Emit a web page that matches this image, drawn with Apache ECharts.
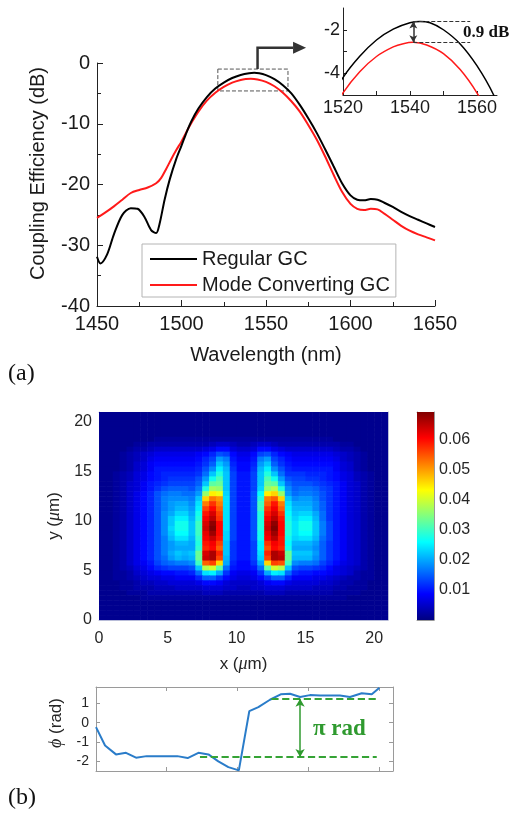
<!DOCTYPE html>
<html><head><meta charset="utf-8">
<script src="https://cdn.jsdelivr.net/npm/echarts/dist/echarts.min.js"></script>
<style>html,body{margin:0;padding:0;background:#fff;}#c{width:513px;height:819px;}</style>
</head><body><div id="c"></div>
<script>
// ---------- (a) coupling efficiency spectra ----------
const regX = [1450,1452,1456,1460,1465,1470,1474,1478,1482,1485,1487,1490,1493,1497,1500,1503,1506,1510,1515,1520,1525,1530,1535,1540,1543,1546,1550,1555,1560,1565,1570,1575,1580,1585,1590,1595,1600,1604,1608,1612,1616,1620,1625,1630,1635,1640,1645,1650];
const regY = [-31.9,-33.0,-31.5,-28.2,-25.0,-23.9,-24.0,-25.3,-27.5,-28.0,-26.5,-22.5,-19.2,-15.7,-13.6,-11.4,-9.5,-7.5,-5.6,-4.2,-3.22,-2.47,-1.97,-1.68,-1.62,-1.68,-2.0,-2.65,-3.65,-5.0,-6.9,-9.1,-11.5,-14.2,-17.0,-19.8,-21.8,-22.5,-22.6,-22.4,-22.5,-23.0,-23.7,-24.5,-25.2,-25.8,-26.4,-27.0];
const modeX = [1450,1455,1460,1465,1470,1475,1480,1485,1488,1491,1494,1497,1500,1503,1506,1510,1515,1520,1525,1530,1535,1538,1541,1545,1550,1555,1560,1565,1570,1575,1580,1585,1590,1595,1600,1604,1608,1612,1616,1620,1625,1630,1635,1640,1645,1650];
const modeY = [-25.5,-24.6,-23.6,-22.5,-21.4,-20.9,-20.5,-19.8,-18.9,-17.4,-15.8,-14.3,-12.9,-11.3,-9.8,-8.0,-6.2,-4.9,-3.93,-3.23,-2.79,-2.64,-2.58,-2.7,-3.1,-3.83,-4.9,-6.3,-8.0,-10.2,-12.6,-15.4,-18.4,-21.2,-23.2,-24.0,-24.2,-24.0,-24.1,-24.8,-25.8,-26.8,-27.6,-28.2,-28.7,-29.2];
const seriesNames = ['Regular GC', 'Mode Converting GC'];
const insetXLabels = [1520, 1540, 1560];
const insetXTicks = [1520, 1530, 1540, 1550, 1560];
const insetYLabels = [-4, -2];
const insetYTicks = [-4, -3, -2];
const peakRegular = -1.62, peakMode = -2.58, peakWl = 1541, peakLineEnd = 1558;

// ---------- (b) intensity map (values in units of 1e-3), rows from top (y=20.75) to bottom (y=0.25) ----------
const heatXCenters = [0.25,0.75,1.25,1.75,2.25,2.75,3.25,3.75,4.25,4.75,5.25,5.75,6.25,6.75,7.25,7.75,8.25,8.75,9.25,9.75,10.25,10.75,11.25,11.75,12.25,12.75,13.25,13.75,14.25,14.75,15.25,15.75,16.25,16.75,17.25,17.75,18.25,18.75,19.25,19.75,20.25,20.75];
const heatYCenters = [20.75,20.25,19.75,19.25,18.75,18.25,17.75,17.25,16.75,16.25,15.75,15.25,14.75,14.25,13.75,13.25,12.75,12.25,11.75,11.25,10.75,10.25,9.75,9.25,8.75,8.25,7.75,7.25,6.75,6.25,5.75,5.25,4.75,4.25,3.75,3.25,2.75,2.25,1.75,1.25,0.75,0.25];
const heatMilli = [
[1,1,1,1,1,1,1,1,1,1,1,1,1,1,1,1,1,1,1,1,1,1,1,1,1,1,1,1,1,1,1,1,1,1,1,1,1,1,1,1,1,1],
[1,1,1,1,1,1,1,1,1,1,1,1,1,1,1,1,1,1,1,1,1,1,1,1,1,1,1,1,1,1,1,1,1,1,1,1,1,1,1,1,1,1],
[1,1,1,1,1,1,1,1,1,1,1,1,1,1,1,1,1,1,1,1,1,1,1,1,1,1,1,1,1,1,1,1,1,1,1,1,1,1,1,1,1,1],
[1,1,1,1,1,1,1,1,1,1,1,1,1,1,1,1,1,1,1,1,1,1,1,1,1,1,1,1,1,1,1,1,1,1,1,1,1,1,1,1,1,1],
[1,1,1,1,1,1,1,1,1,1,1,1,1,1,1,1,1,1,1,1,1,1,1,1,1,1,1,1,1,1,1,1,1,1,1,1,1,1,1,1,1,1],
[1,1,1,1,1,1,1,1,2,2,2,2,2,2,2,2,2,2,2,2,2,2,2,2,2,2,2,2,2,2,2,2,2,2,1,1,1,1,1,1,1,1],
[1,1,1,1,1,2,2,3,3,3,3,3,3,3,3,3,4,5,5,4,3,3,4,5,5,4,3,3,3,3,3,3,3,3,3,2,2,1,1,1,1,1],
[1,1,1,1,2,3,3,4,5,5,5,5,5,5,5,6,7,9,9,6,5,5,6,9,9,7,6,5,5,5,5,5,5,5,4,3,3,2,1,1,1,1],
[1,1,1,2,3,4,5,6,7,7,7,7,7,7,8,9,11,14,13,9,7,7,9,13,14,11,9,8,7,7,7,7,7,7,6,5,4,3,2,1,1,1],
[1,1,1,2,3,4,5,7,8,8,8,8,8,8,9,11,13,19,17,10,8,8,10,17,19,13,11,9,8,8,8,8,8,8,7,5,4,3,2,1,1,1],
[1,1,1,2,3,5,6,8,9,9,9,9,9,9,10,12,15,22,19,11,9,9,11,19,22,15,12,10,9,9,9,9,9,9,8,6,5,3,2,1,1,1],
[1,1,1,2,3,5,6,8,10,10,10,10,10,10,11,14,18,25,21,12,9,9,12,21,25,18,14,11,10,10,10,10,10,10,8,6,5,3,2,1,1,1],
[1,1,2,3,4,6,7,9,10,11,11,11,11,11,12,16,22,28,22,13,10,10,13,22,28,22,16,12,12,12,11,11,11,10,9,7,6,4,3,2,1,1],
[1,1,2,3,4,6,7,9,10,11,12,12,12,12,14,19,27,31,22,13,10,10,13,22,31,27,19,14,13,13,12,12,11,10,9,7,6,4,3,2,1,1],
[1,1,2,3,5,6,8,10,11,12,13,13,13,13,15,22,32,33,22,13,10,10,13,22,33,32,22,16,14,14,14,13,12,11,10,8,6,5,3,2,1,1],
[1,1,2,3,5,6,8,10,12,14,15,15,15,14,17,28,37,36,22,13,10,10,13,23,36,38,28,18,15,16,16,15,13,12,10,8,6,5,3,2,1,1],
[1,1,2,3,5,7,9,11,14,16,17,17,16,16,19,36,44,42,23,13,10,10,14,26,44,46,36,19,16,17,17,16,14,12,10,8,6,5,3,2,1,1],
[1,1,2,3,5,7,9,11,14,17,18,18,18,17,22,46,52,50,24,13,10,10,14,28,52,54,46,22,18,19,19,17,14,12,10,8,6,5,3,2,1,1],
[1,1,2,3,5,7,9,11,14,17,19,20,20,18,24,52,57,52,24,13,10,10,14,30,54,59,52,24,20,20,20,18,15,12,10,8,6,5,3,2,1,1],
[1,1,2,3,5,7,9,11,14,17,19,21,21,19,25,56,60,54,24,13,10,10,14,30,57,61,54,25,21,21,21,18,15,12,10,8,6,5,3,2,1,1],
[1,1,2,3,5,7,9,11,14,18,20,23,23,20,27,59,63,56,24,13,10,10,14,28,59,63,57,26,22,23,23,20,16,12,10,8,6,5,3,2,1,1],
[1,1,2,3,5,7,9,11,14,18,22,25,25,21,28,61,65,57,24,13,10,10,14,28,61,65,59,27,23,25,25,21,16,12,10,8,6,5,3,2,1,1],
[1,1,2,3,5,7,9,11,14,18,22,27,27,22,30,63,68,60,24,13,10,10,14,28,63,68,60,28,24,27,27,22,17,13,10,8,6,5,3,2,1,1],
[1,1,2,3,5,7,9,11,14,18,23,27,27,22,30,64,69,60,24,13,10,10,14,28,64,69,60,28,24,27,27,22,17,13,10,8,6,5,3,2,1,1],
[1,1,2,3,5,7,9,11,14,18,22,26,26,22,30,62,67,60,23,13,10,10,14,27,62,67,60,28,24,26,26,22,17,13,10,8,6,5,3,2,1,1],
[1,1,2,3,5,7,9,11,14,17,21,24,24,21,29,61,64,59,23,13,10,10,14,27,61,65,59,27,23,24,24,21,16,13,10,8,6,5,3,2,1,1],
[1,1,2,3,5,7,9,11,14,17,19,21,21,20,28,59,61,56,22,12,10,10,13,25,57,61,59,26,21,21,21,19,15,12,10,8,6,5,3,2,1,1],
[1,1,2,3,5,7,9,11,14,17,19,20,20,20,29,58,60,54,22,12,10,10,13,25,55,60,58,27,20,20,20,18,15,12,10,8,6,5,3,2,1,1],
[1,1,2,3,5,7,9,11,14,17,20,22,21,22,33,63,66,58,22,12,10,10,13,24,58,66,64,33,22,22,22,19,15,12,10,8,6,5,3,2,1,1],
[1,1,2,3,5,7,9,11,14,16,19,21,20,21,33,64,66,56,21,12,10,10,13,23,56,66,65,33,21,21,21,18,15,12,10,8,6,5,3,2,1,1],
[1,1,2,3,5,7,8,10,13,15,16,17,17,18,30,54,56,46,20,11,9,9,12,20,46,56,55,30,18,17,17,16,13,11,9,7,6,5,3,2,1,1],
[1,1,2,3,4,6,7,9,11,12,13,13,13,14,22,38,40,32,16,10,9,9,10,16,32,40,38,22,14,13,13,12,11,9,7,6,5,4,3,2,1,1],
[1,1,2,2,3,5,6,7,8,9,9,10,10,11,16,24,25,20,12,8,7,7,8,12,20,25,24,16,11,10,10,9,9,8,7,6,5,3,2,2,1,1],
[1,1,2,2,3,4,5,6,6,7,7,8,8,8,11,15,15,12,9,7,6,6,7,9,12,15,15,11,8,8,8,7,7,6,5,4,3,3,2,2,1,1],
[1,1,1,2,2,3,4,4,5,5,6,6,6,6,7,9,9,8,6,5,5,5,5,6,8,9,9,7,6,6,6,6,5,5,4,3,3,2,2,1,1,1],
[1,1,1,2,2,3,3,3,4,4,4,5,5,5,5,6,6,6,5,5,4,4,5,5,6,6,6,5,5,5,5,4,4,4,3,3,2,2,2,1,1,1],
[1,1,1,1,2,2,2,3,3,3,3,3,3,3,3,4,4,4,3,3,3,3,3,3,4,4,4,3,3,3,3,3,3,3,2,2,2,2,1,1,1,1],
[1,1,1,1,1,1,2,2,2,2,2,2,2,2,2,2,2,2,2,2,2,2,2,2,2,2,2,2,2,2,2,2,2,2,2,2,1,1,1,1,1,1],
[1,1,1,1,1,1,1,1,1,1,1,1,1,1,1,1,1,1,1,1,1,1,1,1,1,1,1,1,1,1,1,1,1,1,1,1,1,1,1,1,1,1],
[1,1,1,1,1,1,1,1,1,1,1,1,1,1,1,1,1,1,1,1,1,1,1,1,1,1,1,1,1,1,1,1,1,1,1,1,1,1,1,1,1,1],
[1,1,1,1,1,1,1,1,1,1,1,1,1,1,1,1,1,1,1,1,1,1,1,1,1,1,1,1,1,1,1,1,1,1,1,1,1,1,1,1,1,1],
[1,1,1,1,1,1,1,1,1,1,1,1,1,1,1,1,1,1,1,1,1,1,1,1,1,1,1,1,1,1,1,1,1,1,1,1,1,1,1,1,1,1]
];
const colorbarMax = 0.069;
const colorbarTicks = [0.01, 0.02, 0.03, 0.04, 0.05, 0.06];

// ---------- (b) phase profile ----------
const phaseX = [0,0.64,1.41,2.12,2.83,3.58,4.29,5.0,5.75,6.48,7.24,7.95,8.65,9.36,10.1,10.84,11.48,12.3,13.06,13.72,14.43,15.13,15.84,16.55,17.25,17.96,18.79,19.5,20.04];
const phaseY = [-0.23,-1.18,-1.64,-1.56,-1.81,-1.73,-1.73,-1.73,-1.73,-1.83,-1.56,-1.64,-2.0,-2.3,-2.47,0.6,0.81,1.19,1.47,1.5,1.33,1.43,1.41,1.41,1.41,1.33,1.53,1.47,1.81];
const phaseTicksX = [5, 10, 15, 20];
const phaseTicksY = [-2, -1, 0, 1];
const phaseLow = -1.78, phaseHigh = 1.24;

// ---------- styles ----------
const FONT = 'Liberation Sans, Arial, sans-serif';
const SERIF = 'Liberation Serif, Times New Roman, serif';
const jet = ['#000080','#0000ff','#0080ff','#00ffff','#80ff80','#ffff00','#ff8000','#ff0000','#800000'];
const cellW = 0.5, cellH = 0.5;
const zip = (xs, ys) => xs.map((x, i) => [x, ys[i]]);
const heatData = [];
heatMilli.forEach((row, r) => row.forEach((v, c) => heatData.push([heatXCenters[c], heatYCenters[r], v / 1000])));
const plain = v => String(v);

const dark = '#1a1a1a';
const lineOnly = (extra) => Object.assign({
  type: 'value', axisLine: {show: true, onZero: false, lineStyle: {color: '#999'}},
  axisTick: {show: false}, axisLabel: {show: false}, splitLine: {show: false}
}, extra);

const chart = echarts.init(document.getElementById('c'));
const option = {
  animation: false,
  backgroundColor: '#fff',
  textStyle: {fontFamily: FONT},
  grid: [
    {left: 97, top: 63, width: 338, height: 243},
    {left: 343, top: 8, width: 154, height: 87},
    {left: 99, top: 412, width: 289, height: 208},
    {left: 417, top: 412, width: 17, height: 208},
    {left: 96, top: 687, width: 297, height: 84}
  ],
  legend: {
    left: 142, top: 244, orient: 'vertical', padding: [4, 6, 1, 8], itemGap: 4,
    itemWidth: 47, itemHeight: 2, icon: 'rect', backgroundColor: '#fff', borderColor: '#b4b4b4', borderWidth: 1,
    borderRadius: 0, selectedMode: false, data: seriesNames,
    textStyle: {fontSize: 20, lineHeight: 22, color: dark, fontFamily: FONT}
  },
  visualMap: {
    type: 'continuous', show: false, seriesIndex: 4, dimension: 2,
    min: 0, max: colorbarMax, inRange: {color: jet}
  },
  xAxis: [
    {gridIndex: 0, type: 'value', min: 1450, max: 1650, interval: 50,
     axisLine: {onZero: false, lineStyle: {color: '#222'}},
     axisTick: {inside: true, length: 6, lineStyle: {color: '#222'}},
     minorTick: {show: true, splitNumber: 2, length: 4, lineStyle: {color: '#222'}},
     splitLine: {show: false},
     axisLabel: {fontSize: 20, color: dark, margin: 8, fontFamily: FONT, formatter: plain},
     name: 'Wavelength (nm)', nameLocation: 'middle', nameGap: 39,
     nameTextStyle: {fontSize: 20, color: dark, fontFamily: FONT}},
    {gridIndex: 1, type: 'value', min: 1520, max: 1566,
     axisLine: {onZero: false, lineStyle: {color: '#222'}},
     axisTick: {inside: true, length: 4, customValues: insetXTicks, lineStyle: {color: '#222'}},
     splitLine: {show: false},
     axisLabel: {fontSize: 18, color: dark, margin: 4, customValues: insetXLabels, fontFamily: FONT, formatter: plain}},
    {gridIndex: 2, type: 'value', min: 0, max: 21, interval: 5,
     axisLine: {show: true, onZero: false, lineStyle: {color: '#b8bcd8'}}, axisTick: {show: false},
     splitLine: {show: false},
     axisLabel: {fontSize: 16, color: '#262626', margin: 11, fontFamily: FONT},
     name: 'x ({i|μ}m)', nameLocation: 'middle', nameGap: 35,
     nameTextStyle: {fontSize: 17, color: '#262626', fontFamily: FONT,
       rich: {i: {fontSize: 18, fontStyle: 'italic', fontFamily: SERIF, color: '#262626'}}}},
    lineOnly({gridIndex: 2, position: 'top', min: 0, max: 21, axisLine: {show: true, onZero: false, lineStyle: {color: '#b8bcd8'}}}),
    {gridIndex: 3, type: 'category', data: ['cb'], boundaryGap: true,
     axisLine: {show: true, onZero: false, lineStyle: {color: '#999'}}, axisTick: {show: false}, axisLabel: {show: false}},
    {gridIndex: 3, type: 'category', data: ['cb'], position: 'top', boundaryGap: true,
     axisLine: {show: true, onZero: false, lineStyle: {color: '#999'}}, axisTick: {show: false}, axisLabel: {show: false}},
    {gridIndex: 4, type: 'value', min: 0, max: 21,
     axisLine: {show: true, onZero: false, lineStyle: {color: '#9a9a9a'}},
     axisTick: {inside: true, length: 4, customValues: phaseTicksX, lineStyle: {color: '#9a9a9a'}},
     axisLabel: {show: false}, splitLine: {show: false}},
    {gridIndex: 4, type: 'value', min: 0, max: 21, position: 'top',
     axisLine: {show: true, onZero: false, lineStyle: {color: '#9a9a9a'}},
     axisTick: {inside: true, length: 4, customValues: phaseTicksX, lineStyle: {color: '#9a9a9a'}},
     axisLabel: {show: false}, splitLine: {show: false}}
  ],
  yAxis: [
    {gridIndex: 0, type: 'value', min: -40, max: 0, interval: 10,
     axisLine: {show: true, onZero: false, lineStyle: {color: '#222'}},
     axisTick: {show: true, inside: true, length: 6, lineStyle: {color: '#222'}},
     minorTick: {show: true, splitNumber: 2, length: 4, lineStyle: {color: '#222'}},
     splitLine: {show: false},
     axisLabel: {fontSize: 20, color: dark, margin: 7, fontFamily: FONT},
     name: 'Coupling Efficiency (dB)', nameLocation: 'middle', nameGap: 49,
     nameTextStyle: {fontSize: 20, color: dark, fontFamily: FONT, padding: [0, 0, 0, 22]}},
    {gridIndex: 1, type: 'value', min: -5, max: -1,
     axisLine: {show: true, onZero: false, lineStyle: {color: '#222'}},
     axisTick: {show: true, inside: true, length: 4, customValues: insetYTicks, lineStyle: {color: '#222'}},
     splitLine: {show: false},
     axisLabel: {fontSize: 18, color: dark, margin: 3, customValues: insetYLabels, fontFamily: FONT}},
    {gridIndex: 2, type: 'value', min: 0, max: 21, interval: 5,
     axisLine: {show: true, onZero: false, lineStyle: {color: '#b8bcd8'}}, axisTick: {show: false},
     splitLine: {show: false},
     axisLabel: {fontSize: 16, color: '#262626', margin: 7, fontFamily: FONT},
     name: 'y ({i|μ}m)', nameLocation: 'middle', nameGap: 27,
     nameTextStyle: {fontSize: 17, color: '#262626', fontFamily: FONT,
       rich: {i: {fontSize: 18, fontStyle: 'italic', fontFamily: SERIF, color: '#262626'}}}},
    lineOnly({gridIndex: 2, position: 'right', min: 0, max: 21, axisLine: {show: true, onZero: false, lineStyle: {color: '#b8bcd8'}}}),
    {gridIndex: 3, type: 'value', position: 'right', min: 0, max: colorbarMax,
     axisLine: {show: true, onZero: false, lineStyle: {color: '#999'}},
     axisTick: {show: true, inside: true, length: 3, customValues: colorbarTicks, lineStyle: {color: '#999'}},
     splitLine: {show: false},
     axisLabel: {fontSize: 16, color: '#262626', margin: 5, customValues: colorbarTicks,
       formatter: v => v.toFixed(2), fontFamily: FONT}},
    lineOnly({gridIndex: 3, position: 'left', min: 0, max: colorbarMax}),
    {gridIndex: 4, type: 'value', min: -2.5, max: 1.85,
     axisLine: {show: true, onZero: false, lineStyle: {color: '#9a9a9a'}},
     axisTick: {show: true, inside: true, length: 4, customValues: phaseTicksY, lineStyle: {color: '#9a9a9a'}},
     splitLine: {show: false},
     axisLabel: {fontSize: 14, color: '#262626', margin: 7, customValues: phaseTicksY, fontFamily: FONT},
     name: '{i|ϕ} (rad)', nameLocation: 'middle', nameGap: 24,
     nameTextStyle: {fontSize: 17, color: '#262626', fontFamily: FONT, padding: [0, 0, 0, 12],
       rich: {i: {fontSize: 18, fontStyle: 'italic', fontFamily: SERIF, color: '#262626'}}}},
    {gridIndex: 4, type: 'value', min: -2.5, max: 1.85, position: 'right',
     axisLine: {show: true, onZero: false, lineStyle: {color: '#9a9a9a'}},
     axisTick: {show: true, inside: true, length: 4, customValues: phaseTicksY, lineStyle: {color: '#9a9a9a'}},
     axisLabel: {show: false}, splitLine: {show: false}}
  ],
  series: [
    {name: seriesNames[0], type: 'line', xAxisIndex: 0, yAxisIndex: 0, data: zip(regX, regY),
     symbol: 'none', smooth: 0.3, color: '#000', lineStyle: {width: 2, color: '#000'}, z: 3,
     markArea: {silent: true, label: {show: false},
       itemStyle: {color: 'rgba(0,0,0,0)', borderColor: '#555', borderWidth: 1, borderType: 'dashed'},
       data: [[{coord: [1521.5, -1]}, {coord: [1563, -4.6]}]]}},
    {name: seriesNames[1], type: 'line', xAxisIndex: 0, yAxisIndex: 0, data: zip(modeX, modeY),
     symbol: 'none', smooth: 0.3, color: '#ff1a1a', lineStyle: {width: 2, color: '#ff1a1a'}, z: 2},
    {name: seriesNames[0], type: 'line', xAxisIndex: 1, yAxisIndex: 1, data: zip(regX, regY),
     symbol: 'none', smooth: 0.3, color: '#000', lineStyle: {width: 1.5, color: '#000'}, clip: true,
     markLine: {silent: true, symbol: ['none', 'none'], label: {show: false},
       lineStyle: {color: '#333', type: 'dashed', width: 1},
       data: [
         [{coord: [peakWl, peakRegular]}, {coord: [peakLineEnd, peakRegular]}],
         [{coord: [peakWl, peakMode]}, {coord: [peakLineEnd, peakMode]}]
       ]}},
    {name: seriesNames[1], type: 'line', xAxisIndex: 1, yAxisIndex: 1, data: zip(modeX, modeY),
     symbol: 'none', smooth: 0.3, color: '#ff1a1a', lineStyle: {width: 1.5, color: '#ff1a1a'}, clip: true,
     markLine: {silent: true, symbol: ['arrow', 'arrow'], symbolSize: [6, 7], label: {show: false},
       lineStyle: {color: '#333', type: 'solid', width: 1.5},
       data: [[{coord: [peakWl, peakRegular]}, {coord: [peakWl, peakMode]}]]}},
    {type: 'custom', xAxisIndex: 2, yAxisIndex: 2, data: heatData, clip: true,
     dimensions: ['x', 'y', 'v'], encode: {x: 0, y: 1},
     renderItem: (params, api) => {
       const x = api.value(0), y = api.value(1);
       const a = api.coord([x - cellW / 2, y + cellH / 2]);
       const b = api.coord([x + cellW / 2, y - cellH / 2]);
       return {type: 'rect', shape: {x: a[0], y: a[1], width: b[0] - a[0] + 0.6, height: b[1] - a[1] + 0.6},
               style: {fill: api.visual('color')}};
     }},
    {type: 'bar', xAxisIndex: 4, yAxisIndex: 4, data: [colorbarMax], barWidth: '100%', silent: true,
     itemStyle: {color: {type: 'linear', x: 0, y: 1, x2: 0, y2: 0,
       colorStops: jet.map((c, i) => ({offset: i / (jet.length - 1), color: c}))}}},
    {type: 'line', xAxisIndex: 6, yAxisIndex: 6, data: zip(phaseX, phaseY), symbol: 'none',
     color: '#2a7cc9', lineStyle: {width: 2, color: '#2a7cc9'},
     markLine: {silent: true, symbol: ['none', 'none'], symbolSize: [7, 8], label: {show: false},
       lineStyle: {color: '#35a335', type: 'dashed', width: 1.8},
       data: [
         [{coord: [7.35, phaseLow]}, {coord: [19.85, phaseLow]}],
         [{coord: [12.4, phaseHigh]}, {coord: [19.85, phaseHigh]}],
         [{coord: [14.43, phaseHigh], symbol: 'arrow', lineStyle: {type: 'solid', width: 1.5, color: '#2f9a2f'}},
          {coord: [14.43, phaseLow], symbol: 'arrow', lineStyle: {type: 'solid', width: 1.5, color: '#2f9a2f'}}]
       ]}}
  ]
};
chart.setOption(option);

// zoom-in arrow from the dashed box to the inset (anchored in main-plot data space)
const p0 = chart.convertToPixel({gridIndex: 0}, [1545, -1]);
const p1 = chart.convertToPixel({gridIndex: 0}, [1545, 2.5]);
const p2 = chart.convertToPixel({gridIndex: 0}, [1566, 2.5]);
const tip = chart.convertToPixel({gridIndex: 0}, [1573.7, 2.5]);
chart.setOption({
  graphic: [
    {type: 'polyline', shape: {points: [p0, p1, p2]}, style: {stroke: '#333', lineWidth: 2.5, fill: null}, z: 10},
    {type: 'polygon', shape: {points: [[p2[0], p2[1] - 6], tip, [p2[0], p2[1] + 6]]}, style: {fill: '#333'}, z: 10},
    {type: 'text', x: 463, y: 33, z: 10, style: {text: '0.9 dB', font: 'bold 17px ' + SERIF, fill: '#111', verticalAlign: 'middle'}},
    {type: 'text', x: 313, y: 729, z: 10, style: {text: 'π rad', font: 'bold 23px ' + SERIF, fill: '#2f9a2f', verticalAlign: 'middle'}},
    {type: 'text', x: 8, y: 374, z: 10, style: {text: '(a)', font: '24px ' + SERIF, fill: '#111', verticalAlign: 'middle'}},
    {type: 'text', x: 8, y: 798, z: 10, style: {text: '(b)', font: '24px ' + SERIF, fill: '#111', verticalAlign: 'middle'}}
  ]
});
</script></body></html>
